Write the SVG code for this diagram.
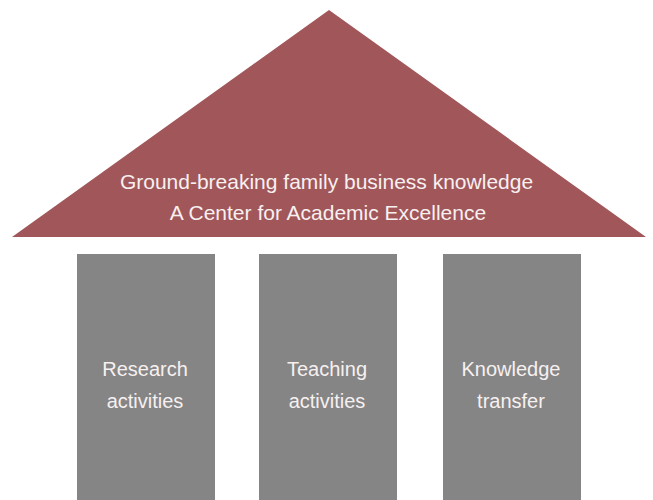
<svg xmlns="http://www.w3.org/2000/svg" width="653" height="500" viewBox="0 0 653 500">
<style>
.roof{fill:#A1565A}
.pillar{fill:#858585}
.t{font-family:"Liberation Sans",Arial,sans-serif;fill:#F7F0F0;text-anchor:middle}
.rt{font-size:21px}
.pt{font-size:20px}
</style>
<rect width="653" height="500" fill="#ffffff"/>
<g id="roof">
<polygon class="roof" points="329,10 646,237 12,237"/>
<text class="t rt" x="326.5" y="189">Ground-breaking family business knowledge</text>
<text class="t rt" x="328" y="220">A Center for Academic Excellence</text>
</g>
<g id="research">
<rect class="pillar" x="77" y="254" width="138" height="246"/>
<text class="t pt" x="145" y="376">Research</text>
<text class="t pt" x="145" y="408">activities</text>
</g>
<g id="teaching">
<rect class="pillar" x="259" y="254" width="138" height="246"/>
<text class="t pt" x="327" y="376">Teaching</text>
<text class="t pt" x="327" y="408">activities</text>
</g>
<g id="transfer">
<rect class="pillar" x="443" y="254" width="138" height="246"/>
<text class="t pt" x="511" y="376">Knowledge</text>
<text class="t pt" x="511" y="408">transfer</text>
</g>
<g id="connectors"></g>
</svg>
